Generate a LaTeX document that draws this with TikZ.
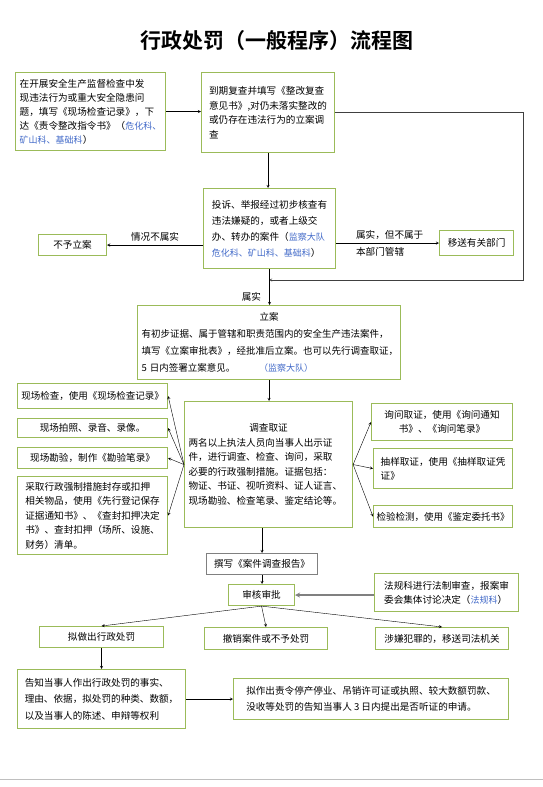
\documentclass[tikz,border=0pt]{standalone}
\usepackage{fontspec}
\setmainfont{Noto Sans CJK SC}[BoldFont={Noto Sans CJK SC Bold}]
\usepackage{tikz}
\usetikzlibrary{arrows}
\definecolor{boxgreen}{RGB}{155,187,89}
\definecolor{deptblue}{RGB}{65,105,200}
\tikzstyle{arrow} = [->,>=stealth]
\tikzstyle{greenbox} = [draw=boxgreen, line width=1.1pt, align=left, inner sep=3pt, anchor=north west]
\tikzstyle{graybox} = [greenbox, draw=gray]
\newcommand{\dept}[1]{{\color{deptblue}\fontsize{9}{13}\selectfont #1}}

\begin{document}
\begin{tikzpicture}[x=1pt,y=-1pt,font=\fontsize{9.6}{14}\selectfont]
    \useasboundingbox (0,0) rectangle (543,787);
    \node[font=\fontsize{21}{24}\selectfont\bfseries] (title) at (277,41) {行政处罚（一般程序）流程图};
    % top row
    \node[greenbox, minimum width=150, minimum height=78] (find) at (15,72)
        {在开展安全生产监督检查中发\\现违法行为或重大安全隐患问\\题，填写《现场检查记录》，下\\达《责令整改指令书》（\dept{危化科、}\\\dept{矿山科、基础科}）};
    \node[greenbox, minimum width=133, minimum height=80, font=\fontsize{9.6}{14.7}\selectfont] (recheck) at (201,72)
        {到期复查并填写《整改复查\\意见书》,对仍未落实整改的\\或仍存在违法行为的立案调\\查};
    \node[greenbox, minimum width=132, minimum height=80, font=\fontsize{9.6}{16}\selectfont] (case) at (203,188)
        {投诉、举报经过初步核查有\\违法嫌疑的，或者上级交\\办、转办的案件（\dept{监察大队}\\\dept{危化科、矿山科、基础科}）};
    \node[greenbox, minimum width=68, minimum height=21, align=center] (reject) at (38,234) {不予立案};
    \node[greenbox, minimum width=74, minimum height=25, align=center] (transfer) at (439,230) {移送有关部门};
    % filing
    \node[greenbox, minimum width=263, minimum height=74, text width=255, font=\fontsize{9.5}{17}\selectfont] (file) at (137,305)
        {\centerline{立案}
        有初步证据、属于管辖和职责范围内的安全生产违法案件，\\填写《立案审批表》，经批准后立案。也可以先行调查取证，\\5 日内签署立案意见。\hspace{2.5em}\dept{（监察大队）}};
    % investigation
    \node[greenbox, minimum width=168, minimum height=126, text width=160, font=\fontsize{9.6}{14.5}\selectfont] (survey) at (184,401)
        {\centerline{调查取证}
        两名以上执法人员向当事人出示证\\件，进行调查、检查、询问，采取\\必要的行政强制措施。证据包括：\\物证、书证、视听资料、证人证言、\\现场勘验、检查笔录、鉴定结论等。};
    \node[greenbox, minimum width=150, minimum height=25, align=center, font=\fontsize{9.5}{14}\selectfont] (e1) at (17,383) {现场检查，使用《现场检查记录》};
    \node[greenbox, minimum width=150, minimum height=19, align=center] (e2) at (17,418) {现场拍照、录音、录像。};
    \node[greenbox, minimum width=150, minimum height=21, align=center] (e3) at (17,447) {现场勘验，制作《勘验笔录》};
    \node[greenbox, minimum width=150, minimum height=78, font=\fontsize{9.6}{14.5}\selectfont] (e4) at (17,476)
        {采取行政强制措施封存或扣押\\相关物品，使用《先行登记保存\\证据通知书》、《查封扣押决定\\书》、查封扣押（场所、设施、\\财务）清单。};
    \node[greenbox, minimum width=141, minimum height=37, align=center] (g1) at (371,403) {询问取证，使用《询问通知\\书》、《询问笔录》};
    \node[greenbox, minimum width=139, minimum height=40] (g2) at (373,448) {抽样取证，使用《抽样取证凭\\证》};
    \node[greenbox, minimum width=139, minimum height=22, align=center, font=\fontsize{9.5}{14}\selectfont] (g3) at (373,505) {检验检测，使用《鉴定委托书》};
    % report and approval
    \node[graybox, minimum width=111, minimum height=21, align=center] (report) at (206,553) {撰写《案件调查报告》};
    \node[greenbox, minimum width=66, minimum height=21, align=center] (approve) at (228,584) {审核审批};
    \node[greenbox, minimum width=144, minimum height=38] (legal) at (374,573) {法规科进行法制审查，报案审\\委会集体讨论决定（\dept{法规科}）};
    % outcomes
    \node[greenbox, minimum width=124, minimum height=21, align=center] (penalty) at (39,626) {拟做出行政处罚};
    \node[greenbox, minimum width=123, minimum height=22, align=center] (revoke) at (204,627) {撤销案件或不予处罚};
    \node[greenbox, minimum width=133, minimum height=22, align=center] (crime) at (375,627) {涉嫌犯罪的，移送司法机关};
    \node[greenbox, minimum width=168, minimum height=59, font=\fontsize{9.6}{16.5}\selectfont] (notify) at (17,669)
        {告知当事人作出行政处罚的事实、\\理由、依据，拟处罚的种类、数额，\\以及当事人的陈述、申辩等权利};
    \node[greenbox, minimum width=275, minimum height=41, font=\fontsize{9.6}{16}\selectfont] (hearing) at (233,678)
        {拟作出责令停产停业、吊销许可证或执照、较大数额罚款、\\没收等处罚的告知当事人 3 日内提出是否听证的申请。};
    % connectors
    \coordinate (loop) at (523,280);
    \draw[arrow] (find.east) -- (find.east -| recheck.west);
    \draw[arrow] (recheck.south) -- (recheck.south |- case.north);
    \draw[arrow,darkgray] (recheck.east) -| (loop) -- (loop -| file.north);
    \draw[arrow] (case.south) -- node[pos=0.78,left=5pt] {属实} (case.south |- file.north);
    \draw[arrow] (case.west |- reject.east) -- node[above] {情况不属实} (reject.east);
    \draw[arrow] (case.east |- transfer.west) -- node[pos=0.16,anchor=west,align=left,font=\fontsize{9.6}{17}\selectfont] {属实，但不属于\\本部门管辖} (transfer.west);
    \draw[arrow] (file.south) -- (file.south |- survey.north);
    \foreach \n in {e1,e2,e3,e4} \draw[arrow] (survey.west) -- (\n.east);
    \foreach \n in {g1,g2,g3} \draw[arrow] (survey.east) -- (\n.west);
    \draw[arrow] (report.north |- survey.south) -- (report.north);
    \draw[arrow] (report.south) -- (report.south |- approve.north);
    \draw[arrow,gray,line width=1.2pt] (legal.west |- approve.east) -- (approve.east);
    \foreach \n in {penalty,revoke,crime} \draw[arrow] (approve.south) -- (\n.north);
    \draw[arrow] (penalty.south) -- (penalty.south |- notify.north);
    \draw[arrow] (notify.east) -- (notify.east -| hearing.west);
    \draw[gray!50] (0,779) -- (543,779);
\end{tikzpicture}
\end{document}
